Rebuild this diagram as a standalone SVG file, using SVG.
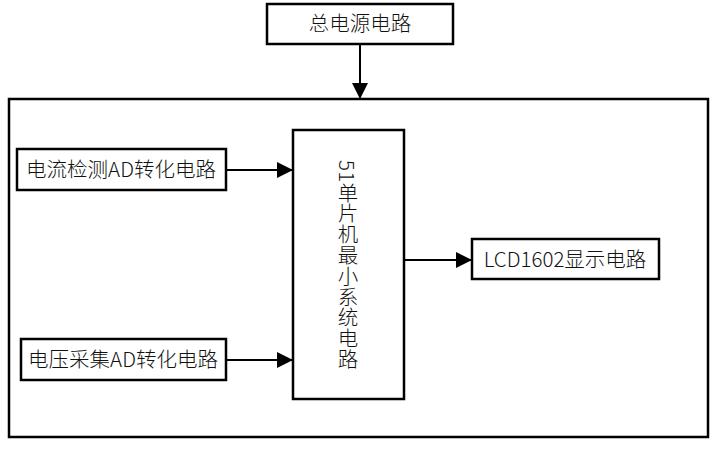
<svg xmlns="http://www.w3.org/2000/svg" width="720" height="452" viewBox="0 0 720 452">
<defs>
<marker id="arr" markerWidth="16" markerHeight="16" refX="15" refY="8" orient="auto" markerUnits="userSpaceOnUse" viewBox="0 0 16 16">
<path d="M0,0 L16,8 L0,16 Z" fill="#000"/>
</marker>
<style>
.box{fill:#fff;stroke:#000;stroke-width:2.5}
.lbl{font-family:"Noto Sans CJK SC","Noto Sans",sans-serif;font-size:20.5px;font-weight:300;fill:#111}
.con{stroke:#000;stroke-width:2;fill:none}
</style>
</defs>
<rect width="720" height="452" fill="#fff"/>
<g id="outer"><rect class="box" x="9" y="99" width="699" height="338"/></g>
<g id="power"><rect class="box" x="267" y="4" width="186" height="40"/><text class="lbl" x="360" y="31" text-anchor="middle">总电源电路</text></g>
<g id="current"><rect class="box" x="17" y="149" width="209" height="41"/><text class="lbl" x="121" y="177" text-anchor="middle">电流检测AD转化电路</text></g>
<g id="voltage"><rect class="box" x="21" y="339" width="205" height="41"/><text class="lbl" x="123" y="367" text-anchor="middle">电压采集AD转化电路</text></g>
<g id="mcu"><rect class="box" x="293" y="130" width="111" height="269"/><text class="lbl" x="348" y="160" style="writing-mode:vertical-rl;letter-spacing:0.3px">51单片机最小系统电路</text></g>
<g id="lcd"><rect class="box" x="472" y="239" width="187" height="40"/><text class="lbl" x="565" y="267" text-anchor="middle">LCD1602显示电路</text></g>
<g id="connectors">
<line class="con" x1="360" y1="44" x2="360" y2="98" marker-end="url(#arr)"/>
<line class="con" x1="226" y1="170" x2="292" y2="170" marker-end="url(#arr)"/>
<line class="con" x1="226" y1="360" x2="292" y2="360" marker-end="url(#arr)"/>
<line class="con" x1="404" y1="260" x2="471" y2="260" marker-end="url(#arr)"/>
</g>
</svg>
